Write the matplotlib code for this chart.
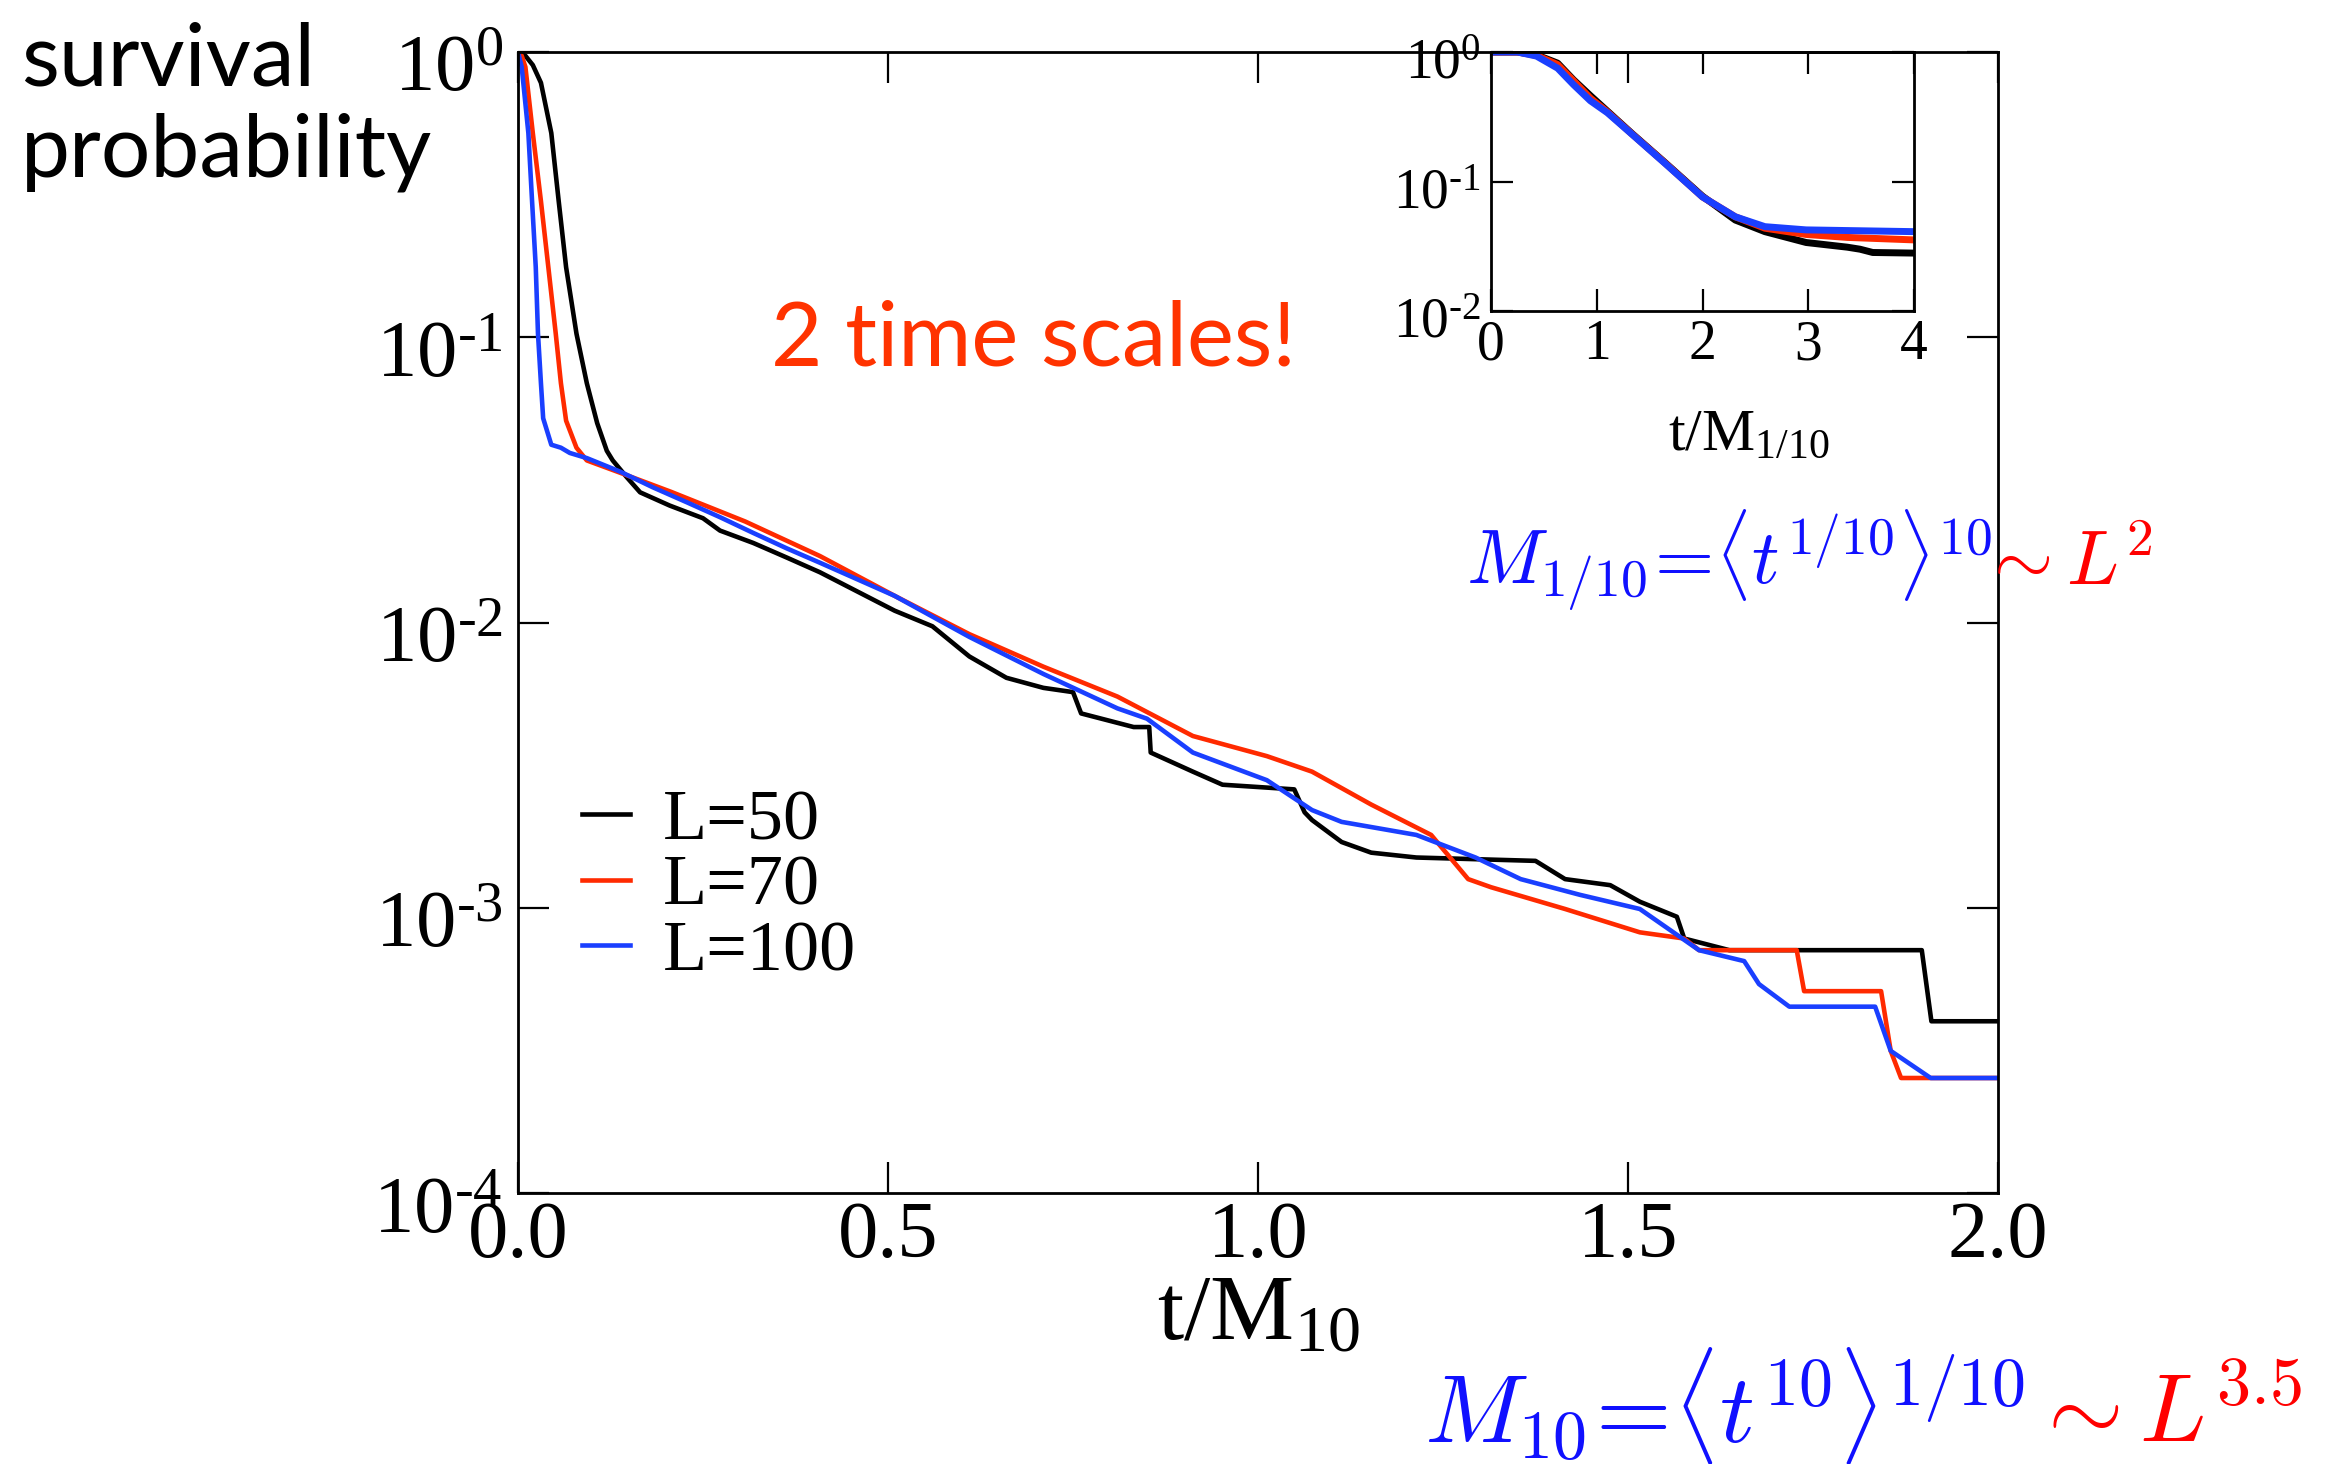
import numpy as np
import matplotlib
matplotlib.use("Agg")
import matplotlib.pyplot as plt
from matplotlib.ticker import FixedLocator, FuncFormatter, NullLocator
from matplotlib.transforms import ScaledTranslation

plt.rcParams["font.family"] = ["Liberation Serif", "DejaVu Serif"]
plt.rcParams["mathtext.fontset"] = "custom"
plt.rcParams["mathtext.rm"] = "Liberation Serif"
plt.rcParams["mathtext.it"] = "Liberation Serif:italic"

# ---- survival probability vs t/M_10 (main panel) ----
t_L50 = [0.0, 0.010, 0.020, 0.031, 0.045, 0.055, 0.065, 0.079, 0.093, 0.107, 0.120,
         0.128, 0.147, 0.165, 0.205, 0.25, 0.273, 0.318, 0.363, 0.408, 0.509, 0.56,
         0.61, 0.66, 0.71, 0.75, 0.761, 0.832, 0.853, 0.855, 0.912, 0.952, 1.049,
         1.063, 1.073, 1.113, 1.153, 1.214, 1.375, 1.415, 1.476, 1.516, 1.566, 1.576,
         1.637, 1.897, 1.91, 2.0]
p_L50 = [1.0, 0.97, 0.90, 0.78, 0.52, 0.30, 0.176, 0.103, 0.069, 0.050, 0.040,
         0.037, 0.0323, 0.0286, 0.0257, 0.0232, 0.021, 0.019, 0.0169, 0.0150, 0.0110, 0.0097,
         0.0076, 0.0064, 0.0059, 0.0057, 0.0048, 0.0043, 0.0043, 0.0035, 0.0030, 0.0027, 0.0026,
         0.00216, 0.00203, 0.0017, 0.00156, 0.0015, 0.00146, 0.00126, 0.0012, 0.00105, 0.00093, 0.00078,
         0.00071, 0.00071, 0.00040, 0.00040]

t_L70 = [0.0, 0.005, 0.010, 0.020, 0.031, 0.041, 0.051, 0.058, 0.065, 0.079, 0.093,
         0.138, 0.207, 0.307, 0.408, 0.509, 0.61, 0.71, 0.81, 0.912, 1.012, 1.073,
         1.153, 1.234, 1.284, 1.315, 1.415, 1.516, 1.576, 1.596, 1.728, 1.738, 1.842,
         1.855, 1.869, 2.0]
p_L70 = [1.0, 0.97, 0.886, 0.52, 0.30, 0.176, 0.103, 0.069, 0.051, 0.041, 0.037,
         0.0335, 0.0287, 0.0226, 0.0171, 0.0124, 0.0091, 0.0070, 0.0055, 0.0040, 0.0034, 0.0030,
         0.0023, 0.0018, 0.00126, 0.00118, 0.00099, 0.00082, 0.00078, 0.00071, 0.00071, 0.00051, 0.00051,
         0.000315, 0.000253, 0.000253]

t_L100 = [0.0, 0.005, 0.014, 0.019, 0.024, 0.027, 0.031, 0.034, 0.045, 0.058, 0.070,
          0.093, 0.138, 0.182, 0.228, 0.273, 0.318, 0.363, 0.408, 0.509, 0.61, 0.71,
          0.81, 0.85, 0.912, 1.012, 1.073, 1.113, 1.214, 1.294, 1.355, 1.435, 1.516,
          1.596, 1.657, 1.677, 1.718, 1.834, 1.855, 1.909, 2.0]
p_L100 = [1.0, 0.886, 0.52, 0.30, 0.176, 0.103, 0.069, 0.052, 0.042, 0.041, 0.0393,
          0.0377, 0.0338, 0.0298, 0.0264, 0.0234, 0.0206, 0.0182, 0.0162, 0.0124, 0.0089, 0.0066,
          0.0050, 0.0046, 0.0035, 0.0028, 0.0022, 0.0020, 0.0018, 0.0015, 0.00126, 0.00111, 0.00099,
          0.00071, 0.00065, 0.00054, 0.00045, 0.00045, 0.000315, 0.000253, 0.000253]

# ---- survival probability vs t/M_1/10 (inset) ----
u_L50 = [0.0, 0.25, 0.43, 0.63, 0.78, 0.94, 1.10, 1.33, 1.65, 2.0, 2.31, 2.59, 2.98, 3.37, 3.49, 3.61, 4.0]
q_L50 = [1.0, 1.0, 0.95, 0.82, 0.61, 0.46, 0.35, 0.236, 0.139, 0.077, 0.0504, 0.041, 0.0338, 0.0311, 0.0300, 0.0283, 0.0280]
u_L70 = [0.0, 0.25, 0.43, 0.63, 0.78, 0.94, 1.10, 1.33, 1.65, 2.0, 2.31, 2.59, 2.98, 3.37, 4.0]
q_L70 = [1.0, 1.0, 0.94, 0.80, 0.60, 0.44, 0.345, 0.234, 0.138, 0.076, 0.0534, 0.0436, 0.039, 0.037, 0.0354]
u_L100 = [0.0, 0.25, 0.43, 0.63, 0.78, 0.94, 1.10, 1.33, 1.65, 2.0, 2.31, 2.59, 2.98, 4.0]
q_L100 = [1.0, 1.0, 0.93, 0.75, 0.56, 0.42, 0.34, 0.233, 0.137, 0.076, 0.0534, 0.0448, 0.0423, 0.041]

labels = ["L=50", "L=70", "L=100"]
colors = ["black", "#ff2a00", "#1a3fff"]

main_xticks = [0.0, 0.5, 1.0, 1.5, 2.0]
main_yticks = [1e-4, 1e-3, 1e-2, 1e-1, 1e0]
inset_xticks = [0, 1, 2, 3, 4]
inset_yticks = [1e-2, 1e-1, 1e0]

W, H = 2338, 1464
fig = plt.figure(figsize=(W / 100, H / 100), dpi=100)


def power_label(v, _):
    e = int(round(np.log10(v)))
    exp = ("\u2010%d" % -e) if e < 0 else "%d" % e
    return r"$\mathregular{10^{%s}}$" % exp


def style_axes(ax, size, ticklen, pad_x, pad_y, ydrop):
    for s in ax.spines.values():
        s.set_linewidth(2.0)
    ax.tick_params(which="both", direction="in", top=True, right=True,
                   length=ticklen, width=1.6, labelsize=size)
    ax.tick_params(axis="x", pad=pad_x)
    ax.tick_params(axis="y", pad=pad_y)
    ax.yaxis.set_minor_locator(NullLocator())
    ax.xaxis.set_minor_locator(NullLocator())
    # decade labels sit slightly below their ticks
    shift = ScaledTranslation(0, -ydrop / 72, fig.dpi_scale_trans)
    for tk in ax.yaxis.get_major_ticks():
        tk.label1.set_transform(tk.label1.get_transform() + shift)


# main panel
ax = fig.add_axes([518 / W, 1 - 1193 / H, 1480 / W, 1141 / H])
for t, p, lab, c in zip([t_L50, t_L70, t_L100], [p_L50, p_L70, p_L100], labels, colors):
    ax.plot(t, p, color=c, lw=3.3, label=lab, solid_joinstyle="round")
ax.set_yscale("log")
ax.set_xlim(0, 2)
ax.set_ylim(1e-4, 1)
ax.xaxis.set_major_locator(FixedLocator(main_xticks))
ax.xaxis.set_major_formatter(FuncFormatter(lambda v, _: "%.1f" % v))
ax.yaxis.set_major_locator(FixedLocator(main_yticks))
ax.yaxis.set_major_formatter(FuncFormatter(power_label))
style_axes(ax, 58, 22, 6, 11, 8.5)

leg = ax.legend(loc="center left", bbox_to_anchor=(0.043, 0.268), frameon=False,
                fontsize=52, handlelength=0.67, handletextpad=0.46,
                labelspacing=0.0, borderpad=0, borderaxespad=0)

# inset panel
ins = fig.add_axes([1491 / W, 1 - 311 / H, 423 / W, (311 - 52) / H])
ins.set_facecolor("none")
for u, q, c in zip([u_L50, u_L70, u_L100], [q_L50, q_L70, q_L100], colors):
    ins.plot(u, q, color=c, lw=5.0, solid_joinstyle="round")
ins.set_yscale("log")
ins.set_xlim(0, 4)
ins.set_ylim(1e-2, 1)
ins.xaxis.set_major_locator(FixedLocator(inset_xticks))
ins.xaxis.set_major_formatter(FuncFormatter(lambda v, _: "%d" % v))
ins.yaxis.set_major_locator(FixedLocator(inset_yticks))
ins.yaxis.set_major_formatter(FuncFormatter(power_label))
style_axes(ins, 40, 16, 6, 7, 5)

# axis titles
fig.text(1258 / W, 1 - 1339 / H, r"$\mathregular{t/M_{10}}$", fontsize=68,
         ha="center", va="baseline")
fig.text(1749 / W, 1 - 450 / H, r"$\mathregular{t/M_{1/10}}$", fontsize=43,
         ha="center", va="baseline")
fig.text(21 / W, 1 - 85 / H, "survival", fontsize=63, family="Lato",
         ha="left", va="baseline")
fig.text(21 / W, 1 - 176 / H, "probability", fontsize=63, family="Lato",
         ha="left", va="baseline")

fig.text(771 / W, 1 - 365 / H, "2 time scales!", fontsize=64, family="Lato",
         color="#ff3300", ha="left", va="baseline")

# moment definitions
fig.text(1466 / W, 1 - 585 / H,
         r"$M_{1/10}\!=\!\langle t^{1/10}\rangle^{10}$",
         fontsize=55, color="#1010ff", math_fontfamily="cm",
         ha="left", va="baseline")
fig.text(1980 / W, 1 - 585 / H, r"$\sim L^{2}$",
         fontsize=55, color="#ff0000", math_fontfamily="cm",
         ha="left", va="baseline")
fig.text(1424 / W, 1 - 1442 / H,
         r"$M_{10}\!=\!\langle t^{10}\rangle^{1/10}$",
         fontsize=70, color="#1010ff", math_fontfamily="cm",
         ha="left", va="baseline")
fig.text(2030 / W, 1 - 1442 / H, r"$\sim L^{3.5}$",
         fontsize=70, color="#ff0000", math_fontfamily="cm",
         ha="left", va="baseline")

fig.savefig("out.png", dpi=100, facecolor="white")
